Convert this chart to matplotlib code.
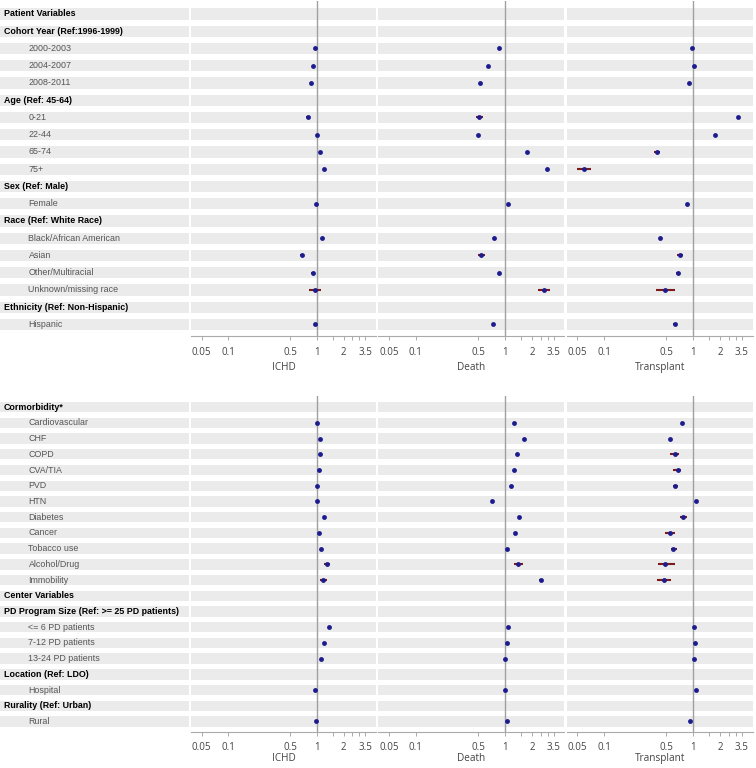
import numpy as np
import matplotlib
matplotlib.use("Agg")
import matplotlib.pyplot as plt
from matplotlib.ticker import FixedLocator, FixedFormatter, NullFormatter

plt.rcParams['font.family'] = ['Liberation Sans', 'DejaVu Sans']

# ---------------- data ----------------
outcomes = ["ICHD", "Death", "Transplant"]

top_labels = ["Patient Variables", "Cohort Year (Ref:1996-1999)", "2000-2003", "2004-2007",
              "2008-2011", "Age (Ref: 45-64)", "0-21", "22-44", "65-74", "75+",
              "Sex (Ref: Male)", "Female", "Race (Ref: White Race)", "Black/African American",
              "Asian", "Other/Multiracial", "Unknown/missing race",
              "Ethnicity (Ref: Non-Hispanic)", "Hispanic"]
top_header = [1, 1, 0, 0, 0, 1, 0, 0, 0, 0, 1, 0, 1, 0, 0, 0, 0, 1, 0]

N = None
top_ichd = [N, N, 0.94, 0.91, 0.85, N, 0.79, 0.99, 1.09, 1.20, N, 0.98, N, 1.15, 0.67, 0.90, 0.94, N, 0.96]
top_ichd_lo = [N, N, 0.92, 0.89, 0.83, N, 0.75, 0.97, 1.07, 1.17, N, 0.97, N, 1.13, 0.64, 0.86, 0.81, N, 0.94]
top_ichd_hi = [N, N, 0.96, 0.93, 0.87, N, 0.83, 1.01, 1.11, 1.23, N, 0.99, N, 1.17, 0.70, 0.94, 1.11, N, 0.98]

top_death = [N, N, 0.86, 0.65, 0.53, N, 0.51, 0.50, 1.77, 2.98, N, 1.09, N, 0.76, 0.545, 0.86, 2.71, N, 0.74]
top_death_lo = [N, N, 0.84, 0.63, 0.51, N, 0.47, 0.48, 1.73, 2.92, N, 1.07, N, 0.74, 0.50, 0.83, 2.32, N, 0.72]
top_death_hi = [N, N, 0.88, 0.67, 0.55, N, 0.57, 0.53, 1.81, 3.04, N, 1.11, N, 0.78, 0.59, 0.89, 3.17, N, 0.76]

top_tx = [N, N, 0.98, 1.02, 0.89, N, 3.19, 1.74, 0.39, 0.060, N, 0.86, N, 0.42, 0.71, 0.67, 0.48, N, 0.62]
top_tx_lo = [N, N, 0.96, 1.00, 0.87, N, 3.10, 1.70, 0.36, 0.050, N, 0.84, N, 0.41, 0.65, 0.64, 0.38, N, 0.60]
top_tx_hi = [N, N, 1.00, 1.04, 0.91, N, 3.28, 1.78, 0.42, 0.071, N, 0.88, N, 0.43, 0.76, 0.70, 0.63, N, 0.64]

bot_labels = ["Cormorbidity*", "Cardiovascular", "CHF", "COPD", "CVA/TIA", "PVD", "HTN",
              "Diabetes", "Cancer", "Tobacco use", "Alcohol/Drug", "Immobility",
              "Center Variables", "PD Program Size (Ref: >= 25 PD patients)",
              "<= 6 PD patients", "7-12 PD patients", "13-24 PD patients",
              "Location (Ref: LDO)", "Hospital", "Rurality (Ref: Urban)", "Rural"]
bot_header = [1, 0, 0, 0, 0, 0, 0, 0, 0, 0, 0, 0, 1, 1, 0, 0, 0, 1, 0, 1, 0]

bot_ichd = [N, 0.99, 1.08, 1.07, 1.04, 1.00, 1.00, 1.19, 1.05, 1.11, 1.30, 1.18, N, N, 1.35, 1.21, 1.10, N, 0.95, N, 0.97]
bot_ichd_lo = [N, 0.98, 1.06, 1.05, 1.02, 0.99, 0.99, 1.17, 1.03, 1.09, 1.19, 1.09, N, N, 1.32, 1.18, 1.08, N, 0.93, N, 0.95]
bot_ichd_hi = [N, 1.00, 1.10, 1.09, 1.06, 1.01, 1.01, 1.21, 1.07, 1.13, 1.41, 1.28, N, N, 1.38, 1.24, 1.12, N, 0.97, N, 0.99]

bot_death = [N, 1.26, 1.64, 1.37, 1.26, 1.18, 0.71, 1.44, 1.29, 1.06, 1.41, 2.51, N, N, 1.08, 1.05, 1.00, N, 1.00, N, 1.05]
bot_death_lo = [N, 1.24, 1.61, 1.34, 1.23, 1.16, 0.70, 1.41, 1.26, 1.04, 1.26, 2.40, N, N, 1.06, 1.03, 0.98, N, 0.98, N, 1.03]
bot_death_hi = [N, 1.28, 1.67, 1.40, 1.29, 1.20, 0.72, 1.47, 1.32, 1.08, 1.60, 2.62, N, N, 1.10, 1.07, 1.02, N, 1.02, N, 1.07]

bot_tx = [N, 0.75, 0.55, 0.62, 0.67, 0.63, 1.07, 0.77, 0.545, 0.60, 0.48, 0.47, N, N, 1.01, 1.04, 1.02, N, 1.06, N, 0.92]
bot_tx_lo = [N, 0.73, 0.53, 0.55, 0.60, 0.59, 1.05, 0.71, 0.48, 0.56, 0.40, 0.39, N, N, 0.99, 1.02, 1.00, N, 1.04, N, 0.90]
bot_tx_hi = [N, 0.77, 0.57, 0.69, 0.73, 0.68, 1.09, 0.86, 0.62, 0.65, 0.62, 0.56, N, N, 1.03, 1.06, 1.04, N, 1.08, N, 0.94]

tick_vals = [0.05, 0.1, 0.5, 1, 2, 3.5]
tick_text = ["0.05", "0.1", "0.5", "1", "2", "3.5"]
minor_vals = [1.5, 2.5, 3]

# ---------------- layout ----------------
W, H = 756, 768
fig = plt.figure(figsize=(W / 100, H / 100), dpi=100)

BAR = '#ebebeb'
DOT = '#1c1c8f'
CI = '#7d1a1a'
XMIN, XMAX = 0.038, 4.62

panel_x = [(191, 376), (378.3, 564.3), (566.7, 752.5)]


def fx(x):
    return x / W


def fy(y):
    return 1 - y / H


def draw_block(y_top, y_bot, labels, header, series, pad_top, pad_bot, tpad, lpad):
    n = len(labels)
    ylim = (n - 1 + pad_bot, -pad_top)
    h = (y_bot - y_top) / H
    # label column
    axl = fig.add_axes([0, fy(y_bot), fx(189.5), h])
    axl.set_xlim(0, 1)
    axl.set_ylim(*ylim)
    axl.axis('off')
    for i, (lab, hd) in enumerate(zip(labels, header)):
        axl.axhspan(i - 0.33, i + 0.33, color=BAR, lw=0)
        if hd:
            axl.text(4 / 189.5, i, lab, va='center', ha='left', fontsize=6.4,
                     fontweight='bold', color='black')
        else:
            axl.text(28.5 / 189.5, i, lab, va='center', ha='left', fontsize=6.4,
                     color='#555555')
    # outcome panels
    for k, (x0, x1) in enumerate(panel_x):
        est, lo, hi = series[k]
        ax = fig.add_axes([fx(x0), fy(y_bot), (x1 - x0) / W, h])
        ax.set_xscale('log')
        ax.set_xlim(XMIN, XMAX)
        ax.set_ylim(*ylim)
        for i in range(n):
            ax.axhspan(i - 0.33, i + 0.33, color=BAR, lw=0)
        ax.axvline(1, color='#a0a0a0', lw=1.0, zorder=1)
        for i in range(n):
            if est[i] is None:
                continue
            ax.plot([lo[i], hi[i]], [i, i], color=CI, lw=1.5, solid_capstyle='butt', zorder=2)
            ax.plot(est[i], i, 'o', color=DOT, ms=3.5, mew=0, zorder=3)
        for s in ['top', 'left', 'right']:
            ax.spines[s].set_visible(False)
        ax.spines['bottom'].set_color('#aaaaaa')
        ax.spines['bottom'].set_linewidth(0.8)
        ax.set_yticks([])
        ax.xaxis.set_major_locator(FixedLocator(tick_vals))
        ax.xaxis.set_major_formatter(FixedFormatter(tick_text))
        ax.xaxis.set_minor_locator(FixedLocator(minor_vals))
        ax.xaxis.set_minor_formatter(NullFormatter())
        ax.tick_params(axis='x', which='both', length=3, width=0.7, color='#aaaaaa',
                       labelsize=7, labelcolor='#444444', pad=tpad)
        for t in ax.get_xticklabels():
            t.set_family(['Open Sans', 'DejaVu Sans'])
        ax.set_xlabel(outcomes[k], fontsize=7.2, color='#444444', labelpad=lpad,
                      family=['Open Sans', 'DejaVu Sans'])
        ax.set_facecolor('none')


draw_block(0.5, 336, top_labels, top_header,
           [(top_ichd, top_ichd_lo, top_ichd_hi),
            (top_death, top_death_lo, top_death_hi),
            (top_tx, top_tx_lo, top_tx_hi)], 0.78, 0.67, 5, 2.5)

draw_block(396, 732, bot_labels, bot_header,
           [(bot_ichd, bot_ichd_lo, bot_ichd_hi),
            (bot_death, bot_death_lo, bot_death_hi),
            (bot_tx, bot_tx_lo, bot_tx_hi)], 0.71, 0.67, 4, 0.3)

fig.savefig("out.png", dpi=100)
